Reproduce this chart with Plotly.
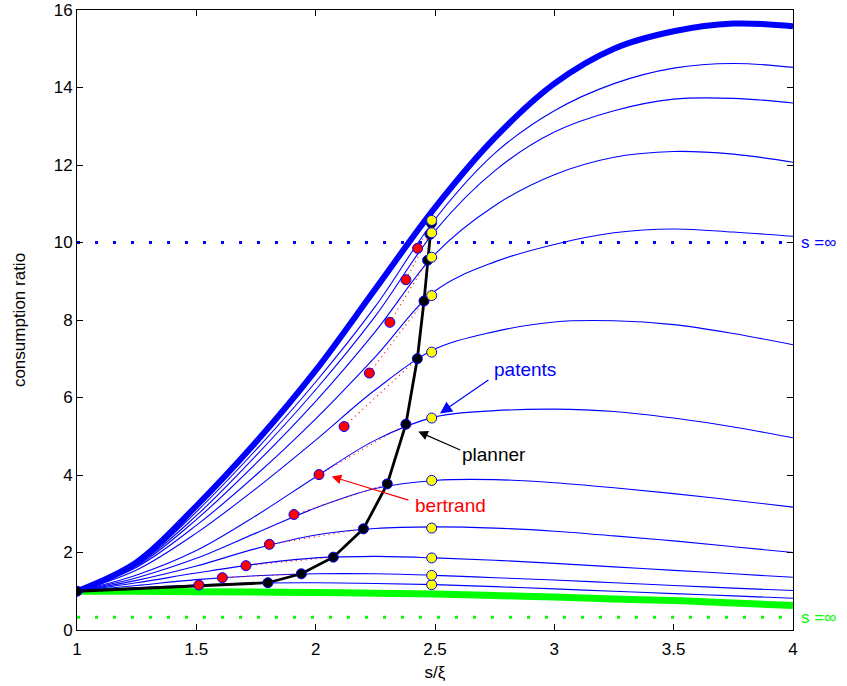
import plotly.graph_objects as go

# ---------------- data ----------------
x_grid = [1, 1.25, 1.5, 1.75, 2, 2.25, 2.5, 2.75, 3, 3.25, 3.5, 3.75, 4]

thick_blue = [1.0, 1.75, 3.2, 4.85, 6.7, 8.8, 10.9, 12.7, 14.1, 15.0, 15.45, 15.65, 15.58]
thick_green = [1.0, 1.0, 0.99, 0.98, 0.97, 0.95, 0.93, 0.89, 0.85, 0.8, 0.76, 0.7, 0.63]

curve_01 = [1.0, 1.09, 1.16, 1.21, 1.22, 1.20, 1.17, 1.12, 1.06, 1.0, 0.94, 0.88, 0.82]
curve_02 = [1.0, 1.15, 1.30, 1.40, 1.45, 1.45, 1.41, 1.35, 1.29, 1.22, 1.15, 1.08, 1.02]
curve_03 = [1.0, 1.22, 1.47, 1.70, 1.86, 1.90, 1.86, 1.80, 1.72, 1.63, 1.54, 1.45, 1.36]
curve_04 = [1.0, 1.28, 1.65, 2.10, 2.45, 2.62, 2.66, 2.63, 2.55, 2.43, 2.30, 2.15, 2.0]
curve_05 = [1.0, 1.35, 1.85, 2.50, 3.15, 3.65, 3.86, 3.88, 3.80, 3.67, 3.52, 3.35, 3.17]
curve_06 = [1.0, 1.42, 2.05, 2.95, 3.95, 4.90, 5.50, 5.66, 5.70, 5.64, 5.47, 5.24, 4.96]
curve_07 = [1.0, 1.55, 2.50, 3.65, 4.90, 6.20, 7.25, 7.70, 7.95, 7.98, 7.88, 7.65, 7.36]
curve_08 = [1.0, 1.62, 2.70, 4.00, 5.45, 7.05, 8.75, 9.50, 9.95, 10.25, 10.35, 10.27, 10.16]
curve_09 = [1.0, 1.65, 2.85, 4.30, 5.90, 7.70, 9.70, 10.95, 11.75, 12.20, 12.35, 12.28, 12.07]
curve_10 = [1.0, 1.68, 2.95, 4.50, 6.20, 8.10, 10.30, 11.85, 12.85, 13.40, 13.70, 13.72, 13.60]
curve_11 = [1.0, 1.70, 3.05, 4.65, 6.40, 8.35, 10.60, 12.30, 13.40, 14.10, 14.50, 14.62, 14.52]
thin_curves = [curve_01, curve_02, curve_03, curve_04, curve_05, curve_06,
               curve_07, curve_08, curve_09, curve_10, curve_11]

planner_x = [1.0, 1.80, 1.94, 2.074, 2.20, 2.30, 2.378, 2.426, 2.454, 2.469, 2.479, 2.485]
planner_y = [1.0, 1.22, 1.45, 1.88, 2.61, 3.77, 5.31, 7.00, 8.49, 9.54, 10.21, 10.50]

bertrand_x = [1.511, 1.609, 1.708, 1.806, 1.909, 2.014, 2.119, 2.225, 2.311, 2.378, 2.427]
bertrand_y = [1.16, 1.35, 1.66, 2.21, 2.98, 4.01, 5.25, 6.63, 7.94, 9.04, 9.85]

patents_x = [2.486] * 11
patents_y = [1.17, 1.41, 1.86, 2.63, 3.86, 5.47, 7.17, 8.63, 9.62, 10.25, 10.57]

limit_high = 10.0
limit_low = 0.33

x_ticks = [1, 1.5, 2, 2.5, 3, 3.5, 4]
x_tick_labels = ["1", "1.5", "2", "2.5", "3", "3.5", "4"]
y_ticks = [0, 2, 4, 6, 8, 10, 12, 14, 16]

# ---------------- figure ----------------
BLUE = "rgb(0,0,255)"
GREEN = "rgb(0,255,0)"
RED = "rgb(255,0,0)"
FONT = "Liberation Sans, Arial, Helvetica, sans-serif"

fig = go.Figure()

# dotted limits
fig.add_trace(go.Scatter(x=[x_grid[0], x_grid[-1]], y=[limit_high, limit_high], mode="lines",
                         line=dict(color=BLUE, width=3, dash="3px,15px"), hoverinfo="skip"))
fig.add_trace(go.Scatter(x=[x_grid[0], x_grid[-1]], y=[limit_low, limit_low], mode="lines",
                         line=dict(color=GREEN, width=3, dash="3px,15px"), hoverinfo="skip"))

# thick green
fig.add_trace(go.Scatter(x=x_grid, y=thick_green, mode="lines", line_shape="spline",
                         line=dict(color=GREEN, width=7)))
# thin curves
for c in thin_curves:
    fig.add_trace(go.Scatter(x=x_grid, y=c, mode="lines", line_shape="spline",
                             line=dict(color=BLUE, width=1.1)))
# thick blue
fig.add_trace(go.Scatter(x=x_grid, y=thick_blue, mode="lines", line_shape="spline",
                         line=dict(color=BLUE, width=6)))

# red dotted links bertrand -> planner
lx, ly = [], []
for i in range(len(bertrand_x)):
    lx += [bertrand_x[i], planner_x[i + 1], None]
    ly += [bertrand_y[i], planner_y[i + 1], None]
fig.add_trace(go.Scatter(x=lx, y=ly, mode="lines",
                         line=dict(color=RED, width=1.2, dash="1px,4px")))

# planner line
fig.add_trace(go.Scatter(x=planner_x, y=planner_y, mode="lines",
                         line=dict(color="black", width=2.8)))

# markers
fig.add_trace(go.Scatter(x=planner_x, y=planner_y, mode="markers",
                         marker=dict(color="black", size=10, line=dict(color=BLUE, width=1))))
fig.add_trace(go.Scatter(x=bertrand_x, y=bertrand_y, mode="markers",
                         marker=dict(color=RED, size=10, line=dict(color=BLUE, width=1))))
fig.add_trace(go.Scatter(x=patents_x, y=patents_y, mode="markers",
                         marker=dict(color="yellow", size=10, line=dict(color=BLUE, width=1))))

# annotations: arrows
arrows = [
    (2.521, 5.59, 2.730, 6.48, BLUE, 2.0),
    (2.430, 5.12, 2.612, 4.63, "black", 1.6),
    (2.067, 3.96, 2.395, 3.34, RED, 1.6),
]
for hx, hy, tx, ty, col, sz in arrows:
    fig.add_annotation(x=hx, y=hy, ax=tx, ay=ty, xref="x", yref="y", axref="x", ayref="y",
                       text="", showarrow=True, arrowhead=2, arrowsize=sz, arrowwidth=1.2,
                       arrowcolor=col)

fig.add_annotation(x=2.877, y=6.72, text="patents", showarrow=False,
                   font=dict(family=FONT, size=19, color=BLUE))
fig.add_annotation(x=2.747, y=4.52, text="planner", showarrow=False,
                   font=dict(family=FONT, size=19, color="black"))
fig.add_annotation(x=2.567, y=3.21, text="bertrand", showarrow=False,
                   font=dict(family=FONT, size=19, color=RED))

fig.add_annotation(x=1.0, y=limit_high, xref="paper", yref="y", xanchor="left", xshift=6,
                   text="s =∞", showarrow=False, font=dict(family=FONT, size=17, color=BLUE))
fig.add_annotation(x=1.0, y=limit_low, xref="paper", yref="y", xanchor="left", xshift=6,
                   text="s =∞", showarrow=False, font=dict(family=FONT, size=17, color=GREEN))

fig.update_layout(
    width=847, height=686,
    margin=dict(l=77, r=54, t=10, b=56, autoexpand=False),
    paper_bgcolor="white", plot_bgcolor="white",
    showlegend=False,
    font=dict(family=FONT, size=17, color="black"),
)
fig.update_xaxes(range=[1, 4], tickvals=x_ticks, ticktext=x_tick_labels, automargin=False,
                 showgrid=False, zeroline=False, showline=True, linecolor="black", linewidth=1,
                 mirror="ticks", ticks="inside", ticklen=6, tickcolor="black",
                 ticklabelstandoff=4,
                 tickfont=dict(size=17), title=dict(text="s/ξ", font=dict(size=17), standoff=7))
fig.update_yaxes(range=[0, 16], tickvals=y_ticks, automargin=False,
                 showgrid=False, zeroline=False, showline=True, linecolor="black", linewidth=1,
                 mirror="ticks", ticks="inside", ticklen=6, tickcolor="black",
                 tickfont=dict(size=17), title=dict(text="consumption ratio", font=dict(size=17), standoff=23))

fig.write_html("out.html", config={"displayModeBar": False},
               post_script="document.body.style.margin='0px';")
